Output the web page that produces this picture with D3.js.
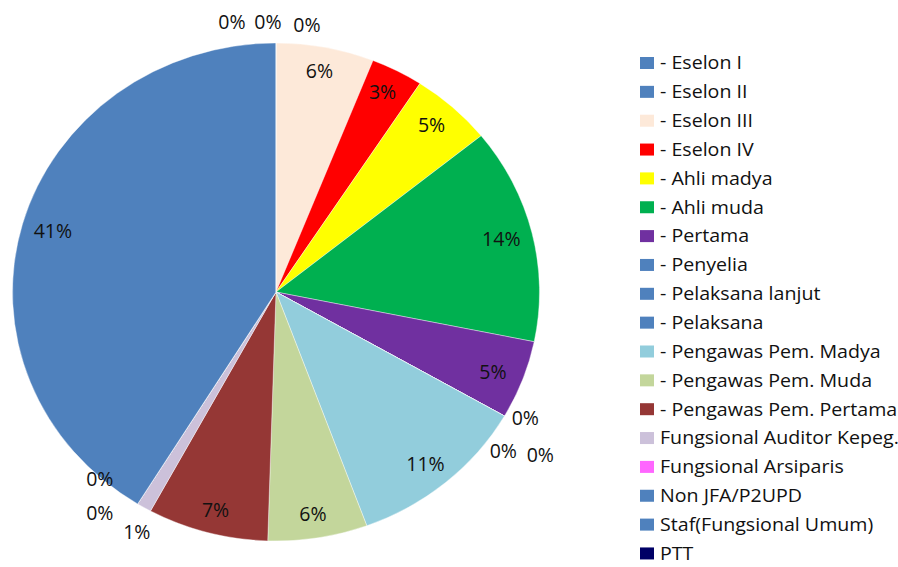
<!DOCTYPE html>
<html>
<head>
<meta charset="utf-8">
<script src="https://cdn.jsdelivr.net/npm/d3@7"></script>
<style>
  html, body { margin: 0; padding: 0; background: #fff; }
  svg text { font-family: "Open Sans", "Noto Sans", sans-serif; fill: #111; }
</style>
</head>
<body>
<svg id="chart" width="898" height="567"></svg>
<script>
// ---- data ----
const categories = [
  "- Eselon I", "- Eselon II", "- Eselon III", "- Eselon IV",
  "- Ahli madya", "- Ahli muda", "- Pertama", "- Penyelia",
  "- Pelaksana lanjut", "- Pelaksana", "- Pengawas Pem. Madya",
  "- Pengawas Pem. Muda", "- Pengawas Pem. Pertama",
  "Fungsional Auditor Kepeg.", "Fungsional Arsiparis",
  "Non JFA/P2UPD", "Staf(Fungsional Umum)", "PTT"
];
const values = [0, 0, 6.0, 3.2, 5.0, 14.0, 5.1, 0, 0, 0, 11.1, 6.1, 7.4, 0.9, 0, 0, 41.2, 0];
const colors = [
  "#4F81BD", "#4F81BD", "#FDE9D9", "#FF0000", "#FFFF00", "#00B050",
  "#7030A0", "#4F81BD", "#4F81BD", "#4F81BD", "#92CDDC", "#C3D69B",
  "#953735", "#CCC1DA", "#FF66FF", "#4F81BD", "#4F81BD", "#000066"
];

// ---- layout (not data) ----
const cx = 276, cy = 292, rx = 263.5, ry = 249;
// nudges for crowded outside labels, by category index
const outsideShift = {0: [-8, 4], 1: [31, 7], 17: [-44, 4], 7: [-2, -10], 8: [-24, 23], 9: [13, 27], 13: [6, 3], 14: [-24, -46], 15: [-24, -12]};

const svg = d3.select("#chart");
const total = d3.sum(values);

const pie = d3.pie().sort(null).value(d => d)(values);
const arc = d3.arc().innerRadius(0).outerRadius(ry);

const g = svg.append("g").attr("transform", `translate(${cx},${cy}) scale(${rx / ry},1)`);
g.selectAll("path").data(pie).enter().append("path")
  .attr("d", arc)
  .attr("fill", (d, i) => colors[i])
  .attr("stroke", "#fff")
  .attr("stroke-width", 0.4)
  .attr("vector-effect", "non-scaling-stroke");

const fmt = v => Math.round(v / total * 100) + "%";
function pos(d, t) {
  const a = (d.startAngle + d.endAngle) / 2;
  return [cx + t * rx * Math.sin(a), cy - t * ry * Math.cos(a)];
}

svg.append("g").selectAll("text").data(pie).enter().append("text")
  .attr("text-anchor", "middle")
  .attr("dy", "0.36em")
  .style("font-size", "19.5px")
  .each(function (d, i) {
    const pct = d.value / total;
    let p;
    if (pct >= 0.02) {
      p = pos(d, 0.88);
      p[1] += 0.025 * ry * (-Math.cos((d.startAngle + d.endAngle) / 2)) ;
    } else {
      p = pos(d, 1.1);
      const s = outsideShift[i] || [0, 0];
      p = [p[0] + s[0], p[1] + s[1]];
    }
    d3.select(this).attr("x", p[0]).attr("y", p[1]).text(fmt(d.value));
  });

// ---- legend ----
const legendY = d3.scaleLinear().domain([0, 1]).range([63, 91.85]);
const lg = svg.append("g");
const rows = lg.selectAll("g").data(categories).enter().append("g")
  .attr("transform", (d, i) => `translate(640,${legendY(i)})`);
rows.append("rect").attr("x", 0).attr("y", -6).attr("width", 14).attr("height", 12)
  .attr("fill", (d, i) => colors[i]);
rows.append("text").attr("transform", "translate(20,0) scale(1.09,1)").attr("dy", "0.35em")
  .style("font-size", "18px").text(d => d);
</script>
</body>
</html>
